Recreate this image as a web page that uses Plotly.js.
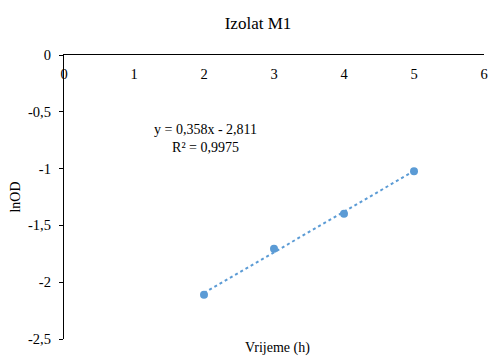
<!DOCTYPE html>
<html>
<head>
<meta charset="utf-8">
<script src="https://cdn.plot.ly/plotly-3.0.1.min.js"></script>
<style>html,body{margin:0;padding:0;background:#fff;}#chart{width:489px;height:356px;}</style>
</head>
<body>
<div id="chart"></div>
<script>
const timeH = [2, 3, 4, 5];
const lnOD = [-2.11, -1.705, -1.397, -1.024];
const slope = 0.358;
const intercept = -2.811;
const rSquared = '0,9975';
const xTickVals = [0, 1, 2, 3, 4, 5, 6];
const xTickText = ['0', '1', '2', '3', '4', '5', '6'];
const yTickVals = [0, -0.5, -1, -1.5, -2, -2.5];
const yTickText = ['0', '-0,5', '-1', '-1,5', '-2', '-2,5'];

const trendX = [Math.min(...timeH), Math.max(...timeH)];
const trendY = trendX.map(x => slope * x + intercept);
const blue = '#5B9BD5';
const fam = '"Times New Roman", "Liberation Serif", serif';
const font = {family: fam, size: 14, color: '#000'};
const tickFont = {family: fam, size: 14.5, color: '#000'};

const traces = [
  {x: trendX, y: trendY, mode: 'lines', type: 'scatter',
   line: {color: blue, width: 2, dash: 'dot'}, hoverinfo: 'skip', showlegend: false},
  {x: timeH, y: lnOD, mode: 'markers', type: 'scatter',
   marker: {color: blue, size: 8}, showlegend: false}
];

const layout = {
  width: 489, height: 356,
  margin: {l: 64, r: 5, t: 55, b: 17},
  paper_bgcolor: '#fff', plot_bgcolor: '#fff',
  font: font,
  showlegend: false,
  title: {text: 'Izolat M1', font: {family: fam, size: 17, color: '#000'},
          xref: 'paper', x: (258 - 64) / 420, xanchor: 'center',
          yref: 'container', y: 1 - 23 / 356, yanchor: 'middle'},
  xaxis: {
    range: [0, 6], side: 'top', tickmode: 'array', tickvals: xTickVals, ticktext: xTickText,
    ticklabelposition: 'inside', ticklabeloverflow: 'allow', ticklabelstandoff: 14,
    ticks: '', showgrid: false, zeroline: false,
    showline: true, linecolor: '#000', linewidth: 1.2, tickfont: tickFont, fixedrange: true
  },
  yaxis: {
    range: [-2.5, 0], tickmode: 'array', tickvals: yTickVals, ticktext: yTickText,
    ticklabeloverflow: 'allow', ticklabelstandoff: 5,
    ticks: 'outside', ticklen: 4, tickcolor: '#000', showgrid: false, zeroline: false,
    showline: true, linecolor: '#000', linewidth: 1.2, tickfont: tickFont,
    title: {text: 'lnOD', font: font, standoff: 4}, fixedrange: true
  },
  annotations: [
    {text: 'y = 0,358x - 2,811<br>R² = ' + rSquared, xref: 'paper', yref: 'paper',
     x: (205 - 64) / 420, y: (339 - 138) / 284, xanchor: 'center', yanchor: 'middle',
     showarrow: false, font: font, align: 'center'},
    {text: 'Vrijeme (h)', xref: 'paper', yref: 'paper', x: (277 - 64) / 420, y: -9 / 284,
     xanchor: 'center', yanchor: 'middle', showarrow: false, font: font}
  ]
};

Plotly.newPlot('chart', traces, layout, {displayModeBar: false, staticPlot: true});
</script>
</body>
</html>
